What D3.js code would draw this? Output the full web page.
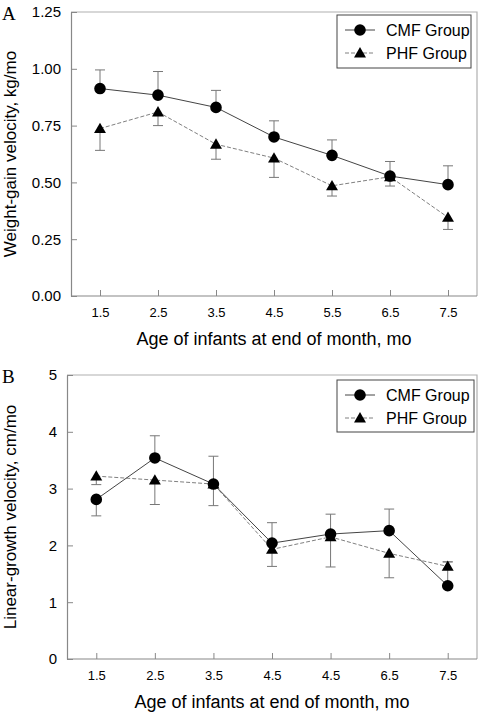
<!DOCTYPE html>
<html><head><meta charset="utf-8">
<script src="https://cdn.jsdelivr.net/npm/d3@7"></script>
<style>body{margin:0;background:#fff}svg{display:block}</style>
</head><body>
<script>
// ---- Data ----
const labelsA = ["1.5","2.5","3.5","4.5","5.5","6.5","7.5"];
const cmfA = [0.913,0.884,0.830,0.700,0.619,0.528,0.490];
const cmfErrA = [0.995,0.988,0.905,0.771,0.687,0.592,0.573];
const phfA = [0.737,0.810,0.668,0.607,0.485,0.525,0.346];
const phfErrA = [0.641,0.750,0.602,0.522,0.440,0.484,0.293];
const yTicksA = [0,0.25,0.5,0.75,1.0,1.25];

const labelsB = ["1.5","2.5","3.5","4.5","4.5","6.5","7.5"];
const cmfB = [2.81,3.54,3.08,2.04,2.20,2.26,1.29];
const cmfErrB = [2.52,3.93,3.57,2.40,2.55,2.64,1.71];
const phfB = [3.22,3.15,3.08,1.93,2.15,1.86,1.63];
const phfErrB = [3.07,2.72,2.70,1.63,1.62,1.43,1.71];
const yTicksB = [0,1,2,3,4,5];

const seriesNames = ["CMF Group","PHF Group"];
const xTitle = "Age of infants at end of month, mo";

const W = 482, H = 714;
const svg = d3.select("body").append("svg").attr("width", W).attr("height", H);
const sans = "'Liberation Sans', Arial, sans-serif";

function panel(cfg){
  const g = svg.append("g");
  const {left,right,top,bottom} = cfg;
  const idx = d3.range(cfg.labels.length);
  const x = d3.scalePoint().domain(idx).range([left,right]).padding(0.5);
  const y = d3.scaleLinear().domain(cfg.yDomain).range([bottom,top]);

  // frame top/right
  g.append("path").attr("d",`M${left},${top}H${right}V${bottom}`)
    .attr("fill","none").attr("stroke","#b0b0b0").attr("stroke-width",1.2);

  const ya = g.append("g").attr("transform",`translate(${left},0)`)
    .call(d3.axisLeft(y).tickValues(cfg.yTicks).tickFormat(cfg.yFormat).tickSizeInner(-6).tickSizeOuter(0).tickPadding(10));
  ya.select(".domain").attr("stroke","#888").attr("stroke-width",1.2);
  ya.selectAll(".tick line").attr("stroke","#888");
  ya.selectAll(".tick text").attr("font-family",sans).attr("font-size",15).attr("fill","#000");

  const xa = g.append("g").attr("transform",`translate(0,${bottom})`)
    .call(d3.axisBottom(x).tickFormat(i=>cfg.labels[i]).tickSizeInner(-6).tickSizeOuter(0).tickPadding(12));
  xa.select(".domain").attr("d",`M${left},0H${right}`).attr("stroke","#888").attr("stroke-width",1.2);
  xa.selectAll(".tick line").attr("stroke","#888");
  xa.selectAll(".tick text").attr("font-family",sans).attr("font-size",13).attr("fill","#000");

  // titles
  g.append("text").attr("x",(left+right)/2).attr("y",bottom+49).attr("text-anchor","middle")
    .attr("font-family",sans).attr("font-size",18).text(xTitle);
  g.append("text").attr("transform",`translate(16,${(top+bottom)/2}) rotate(-90)`)
    .attr("text-anchor","middle").attr("font-family",sans).attr("font-size",17).text(cfg.yTitle);
  g.append("text").attr("x",2).attr("y",top+8).attr("font-family","'Liberation Serif', 'Times New Roman', serif")
    .attr("font-size",19).text(cfg.letter);

  const series = [
    {v:cfg.cmf, e:cfg.cmfErr, dash:null, color:"#444", shape:"circle"},
    {v:cfg.phf, e:cfg.phfErr, dash:"4,2", color:"#808080", shape:"triangle"}
  ];
  // error bars
  series.forEach(s=>{
    idx.forEach(i=>{
      g.append("line").attr("x1",x(i)).attr("x2",x(i)).attr("y1",y(s.v[i])).attr("y2",y(s.e[i]))
        .attr("stroke","#777").attr("stroke-width",1);
      g.append("line").attr("x1",x(i)-5).attr("x2",x(i)+5).attr("y1",y(s.e[i])).attr("y2",y(s.e[i]))
        .attr("stroke","#777").attr("stroke-width",1);
    });
  });
  // lines
  series.slice().reverse().forEach(s=>{
    g.append("path").datum(idx).attr("fill","none").attr("stroke",s.color).attr("stroke-width",1)
      .attr("stroke-dasharray",s.dash)
      .attr("d",d3.line().x(i=>x(i)).y(i=>y(s.v[i])));
  });
  const circ = d3.symbol().type(d3.symbolCircle).size(Math.PI*5.8*5.8);
  const tri = d3.symbol().type(d3.symbolTriangle).size(62);
  series.slice().reverse().forEach(s=>{
    g.selectAll(null).data(idx).enter().append("path")
      .attr("transform",i=>`translate(${x(i)},${y(s.v[i])+(s.shape==="triangle"?1:0)})`)
      .attr("d",s.shape==="circle"?circ:tri).attr("fill","#000");
  });

  // legend
  const L = cfg.legend;
  g.append("rect").attr("x",L.x).attr("y",L.y).attr("width",L.w).attr("height",L.h)
    .attr("fill","#fff").attr("stroke","#444").attr("stroke-width",1);
  series.forEach((s,k)=>{
    const cy = L.y + 15 + k*23;
    g.append("line").attr("x1",L.x+8).attr("x2",L.x+38).attr("y1",cy).attr("y2",cy)
      .attr("stroke",s.color).attr("stroke-dasharray",s.dash);
    g.append("path").attr("transform",`translate(${L.x+23},${cy+(s.shape==="triangle"?1:0)})`)
      .attr("d",s.shape==="circle"?circ:tri).attr("fill","#000");
    g.append("text").attr("x",L.x+49).attr("y",cy+5.5).attr("font-family",sans).attr("font-size",16).text(seriesNames[k]);
  });
}

panel({left:71,right:477,top:12,bottom:296,labels:labelsA,yDomain:[0,1.25],yTicks:yTicksA,
  yFormat:d3.format(".2f"),cmf:cmfA,cmfErr:cmfErrA,phf:phfA,phfErr:phfErrA,
  yTitle:"Weight-gain velocity, kg/mo",letter:"A",legend:{x:337,y:15,w:134,h:53}});
panel({left:67,right:477,top:375,bottom:659,labels:labelsB,yDomain:[0,5],yTicks:yTicksB,
  yFormat:d3.format("d"),cmf:cmfB,cmfErr:cmfErrB,phf:phfB,phfErr:phfErrB,
  yTitle:"Linear-growth velocity, cm/mo",letter:"B",legend:{x:337,y:380,w:137,h:52}});
</script>
</body></html>
